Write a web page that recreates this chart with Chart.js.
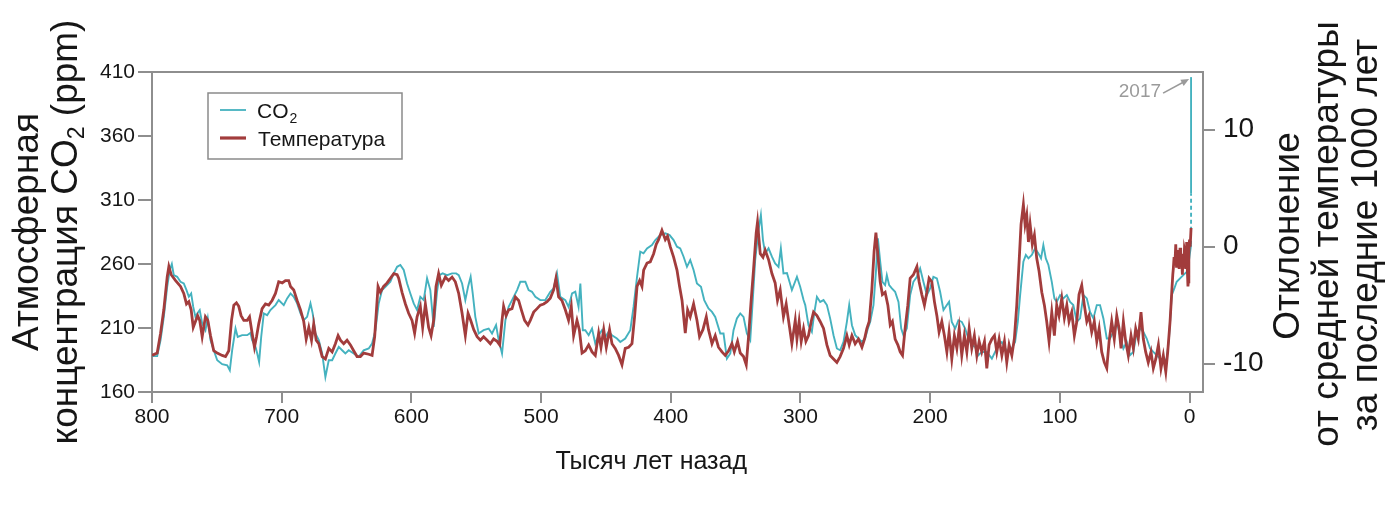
<!DOCTYPE html>
<html>
<head>
<meta charset="utf-8">
<script src="https://cdn.jsdelivr.net/npm/chart.js@4.4.1/dist/chart.umd.min.js"></script>
<style>
html,body{margin:0;padding:0;background:#fff;}
#wrap{width:1387px;height:506px;position:relative;}
</style>
</head>
<body>
<div id="wrap"><canvas id="c" width="1387" height="506"></canvas></div>
<script>
// ---- data (ages in thousand years ago) ----
const co2Age = [800,796,793.4,790.9,788.3,786.3,784.7,783.2,780.6,778,775.5,773.4,771.6,769.8,768.2,766.5,765.1,763.2,761.3,758.8,757,754.9,752.4,749.7,745.9,742,740,738.2,735.6,733.9,730.5,726.6,724.1,722.8,720.2,718.9,717.4,715.8,713.8,711.2,708.7,704.8,702.3,698.4,695.8,693.2,690.7,688.1,685.5,683,680.4,677.8,676.1,674,671.4,668.8,666.3,663.7,661.1,658.6,656,653.4,650.9,648.3,644.5,640.6,636.8,632.9,630.3,627.7,625.2,622.6,620,616.2,613.6,611,608.5,605.9,603.3,600.8,598.2,595.6,593.1,590.5,587.9,585.4,582.8,580.2,578.4,575.9,572.5,568.6,565.5,563.5,560.9,558.4,556.3,554.3,552.7,550.7,548.1,544.3,540.4,537.8,534.7,532.7,530.1,527.5,525,522.4,518.5,516,512.1,509.6,507,504.4,500.6,496.7,492.9,490.3,487.7,485.2,481.3,478.8,476.1,473.6,471.1,469.7,467.8,465.9,463.3,460.7,458.2,455.6,453,450.5,447.9,445.3,441.5,438.9,435.1,431.2,428.7,426,423.5,421,418.3,414.5,411.9,408.1,404.2,400.9,397.8,395.2,392.7,390.1,387.5,385,382.4,379.8,376.7,374.2,370.9,368.2,365.7,361.8,359.3,356.7,354.1,351.6,349,346.4,343.9,341.3,338.7,336.6,334.9,332.3,330.5,328.9,327.2,324.6,322,319.5,316.9,315.1,313.1,310.4,306.6,302.7,300.2,297.6,296.3,293.8,291.2,289.2,287.3,284.8,282.2,279.6,277.1,274.5,271.9,269.4,266.8,264.2,262.4,260.3,257.8,255.3,252.6,250.1,248,246.2,243.7,241.8,240.3,238.5,236.8,234.7,233.4,231.6,229.5,227,224.4,222.3,220.6,218,215.4,212.9,210.2,207.7,205.2,202.5,200,197.5,194.8,192.3,189.7,187.1,185.4,183.3,180.7,178.2,175.6,173,170.5,167.9,165.3,162.8,160.2,156.3,152.4,149.9,147.4,144.7,142.2,139.7,137,134.5,132.4,130.6,128.1,126.2,124.2,121.6,119.1,116.5,114.5,112.7,110.8,108.8,106.2,104.2,102.4,99.8,97.3,94.6,92.1,89.6,86.9,84.4,81.8,79.2,76.7,74.1,71.5,69,66.4,63.8,61.3,58.7,56.1,53.6,51,48.4,45.9,43.3,40.7,38.2,35.6,33,30.4,27.9,25.3,22.7,20.2,17.6,15.8,13.7,11.7,9.9,7.3,4.8,2.2,0.5,-1.2,-1.2,-1.2];
const co2Ppm = [188,188,200.5,218.7,242.2,255.3,260,251.3,250,246.1,244.8,239.6,234.4,237,226.5,218.7,221.4,224,213.5,208.3,217.7,200.5,192.6,184.8,181.7,180.9,177,192.6,209.6,203,204.4,204.4,206.2,200.5,195.2,190.3,183.5,203,221.4,220,224,227.9,231.8,227.9,233.1,237,234.4,229.2,221.4,216.1,218.7,229.2,221.4,205.7,200.5,190.1,171.7,184.8,184.8,190.1,195.2,192.6,190.1,192.6,190.1,187.4,192.6,194,197.9,208.3,229.2,239.6,242.2,246.1,252.7,257.8,259.2,255.3,244.8,237,229.2,224,234.4,231.8,248.8,239.6,210.9,238.3,251.3,252.7,251.3,252.7,252.7,251.3,244.8,231.8,242.2,250,237,218.7,205.7,208.3,209.6,205.7,212.2,200.5,190.1,216.1,226.5,231.8,239.6,246.1,246.1,239.6,238.3,234.4,231.8,231.8,238.3,240.9,252.7,234.4,231.8,226.5,237,238.3,226.5,244.8,208.3,208.3,204.4,209.6,197.9,204.4,208.3,203,207,204.4,201.8,199.1,201.8,208.3,226.5,250,269.6,268.3,272.2,274.8,278.7,282.6,284,282.6,278.7,273.5,272.2,265.7,257.8,263.1,255.3,244.8,242.2,231.8,225.3,222.6,218.7,205.7,205.7,186.1,190.1,208.3,217.5,221.4,218.7,205.7,200.5,234.4,263.1,286.6,298.3,278.7,268.3,272.2,265.7,260.5,257.8,272.2,252.7,253,239.6,250,242.2,231.8,227.9,212.2,207,222.6,234.4,230.4,231.8,227.9,217.5,204.4,194,192.6,199.1,214.8,227.9,212.2,204.4,201.8,199.1,201.8,209.6,214.8,227.9,253.9,280.1,261.8,246.1,243.5,251.3,243.5,240.9,238.3,230.4,209.6,204.4,209.6,235.7,246.1,250,256.6,246.1,235.7,240.9,250,248.8,238.3,224,227.9,230.4,214.8,209.6,216.1,214.8,209.6,201.8,196.6,195.2,188.7,191.3,191.3,186.1,191.3,196.6,199.1,194,191.3,194,199.1,214.8,235.7,261.8,267,264.4,267,272.2,268.3,264.4,274.8,264.4,259.2,246.1,233.1,230.4,235.7,233.1,235.7,230.4,227.9,214.8,217.5,235.7,233.1,222.6,217.5,227.9,227.9,217.5,201.8,201.8,207,214.8,204.4,194,199.1,188.7,191.3,207,209.6,207,201.8,194,191.3,188.7,186.1,183.5,186.1,201.8,235.7,240.9,246.1,248.8,251.3,253.9,262,275,315,406];

const tempAge = [800,796,793.4,790.9,788.3,787,785.2,781.8,778,775.5,773.4,771.6,769.8,768.2,766.5,764.8,763.2,761.3,758.8,757,754.9,752.4,749.7,745.9,743.3,740.8,738.7,736.9,734.9,733.1,731.3,729.2,726.6,724.8,722.8,721,719.4,717.7,715.1,712.5,710,707.4,704.8,702.3,699.6,697.1,694.6,693.2,690.7,688.1,685.5,683,681.1,679.1,677,675.3,673.4,671.4,668.8,666.3,663.7,661.1,658.6,656.5,654.7,652.2,649.6,647,644.5,641.9,639.3,636.8,632.9,630.3,628.3,625.7,623.9,621.4,618.7,616.2,613.6,611,609.8,607.2,604.6,602.1,599.5,597.5,595.6,593.1,591.3,589.2,586.7,584.8,582.8,581,579,576.9,573.8,571.3,568.6,566.1,563.5,560.9,558.4,556.3,554.3,551.9,549.3,546.8,544.3,541.6,539.1,536.6,533.9,531.9,530.1,528.9,527,525,522.4,519.8,517.3,515.2,512.7,510.1,508.3,505.7,503.1,500.6,498,495.4,492.9,490.3,488.5,486.5,483.9,481.3,478.8,476.7,474.9,472.3,470.5,468.4,465.9,463.3,460.7,458.2,455.6,453.8,451.7,449.7,447.2,445.3,442.8,440.2,437.6,435.1,432.5,429.9,427.9,426,424,422.2,420.9,418.3,415.8,413.2,411.2,409.4,406.8,404.2,402.5,400.4,397.8,395.2,393.2,391.3,388.8,387,385,382.4,379.8,377.8,375.2,372.6,370.9,368.2,365.7,363.2,360.5,358,355.4,352.8,351,348.5,346.4,343.9,341.8,340,338.2,336.2,334.1,333.1,331,328.9,327.2,324.6,322,319.5,317.7,315.6,313.1,311,308.4,306.6,304,302.7,301,299.4,297.6,295.8,293.8,291.7,289.9,287.3,284.8,282.2,279.6,277.1,274.5,271.9,269.4,266.8,264.2,262.4,260.3,257.8,255.3,252.6,250.6,248.8,247,244.9,243.2,241.8,240.3,238.5,236.8,234.7,232.6,230.8,229.1,227,224.9,223.1,221.3,219.3,217.2,215.4,212.9,210.2,208.5,206.4,204.4,202.5,200.8,198.7,196.7,194.8,193.1,191,189,187.1,185.4,183.3,181.3,179.4,177.6,175.6,173.6,171.7,169.9,167.9,165.9,164,162.2,160.2,158.1,156.3,154.5,152.4,150.4,148.6,146.8,144.7,142.7,140.9,139.1,137,135,133.2,131.4,129.9,128.1,126.8,125.5,124.2,122.9,121.2,119.6,117.8,116,113.9,111.9,110.1,108.3,106.2,104.2,102.4,100.6,98.5,96.5,94.6,92.9,90.8,88.8,86.9,85.2,83.1,81.1,79.2,77.5,75.4,73.4,71.5,69.7,67.7,65.7,63.8,62,60,58,56.1,54.3,52.8,51,49.2,47.2,45.1,43.3,41.5,39.5,37.4,35.6,33.8,31.8,29.7,27.9,26,24,22,20.2,18.3,16.8,15,13.7,12.9,12.5,11.9,11.3,10.6,10,9.4,9.1,8.6,8,7.3,6.8,6.2,5.5,5,4.4,3.9,3.5,3,2.5,2.2,1.6,1.2,0.9,0.5,0,-0.5,-1.2];
const tempDev = [-9.3,-9.1,-7.4,-5.4,-2.6,-1.7,-2.4,-2.9,-3.4,-4.0,-4.9,-4.7,-5.4,-6.9,-6.4,-5.9,-6.3,-7.7,-6.0,-6.3,-7.6,-8.9,-9.1,-9.3,-9.4,-8.9,-6.3,-5.0,-4.8,-5.1,-5.9,-6.3,-6.3,-6.0,-7.4,-8.6,-7.7,-6.6,-5.3,-4.9,-5.0,-4.6,-4.0,-3.0,-3.1,-2.9,-2.9,-3.4,-3.7,-4.6,-5.4,-6.4,-7.9,-6.9,-8.0,-6.6,-8.0,-8.3,-9.4,-9.6,-8.7,-9.0,-8.3,-7.6,-8.0,-8.3,-8.0,-8.4,-8.9,-9.4,-9.4,-9.1,-9.2,-9.3,-7.7,-3.4,-3.9,-3.4,-3.1,-2.7,-2.3,-2.4,-2.7,-3.9,-4.9,-5.7,-6.3,-7.4,-6.0,-5.1,-6.9,-4.9,-6.9,-7.6,-6.3,-3.4,-2.3,-3.3,-2.6,-2.9,-2.6,-3.0,-4.0,-5.7,-7.6,-5.7,-6.3,-7.1,-7.7,-8.0,-7.7,-8.0,-8.3,-7.9,-8.1,-8.4,-6.3,-5.1,-5.9,-5.4,-5.3,-4.3,-4.6,-5.4,-6.3,-6.7,-6.3,-5.6,-5.3,-5.0,-4.9,-4.7,-4.4,-3.7,-2.7,-4.3,-4.6,-5.4,-6.3,-5.1,-7.6,-6.3,-7.1,-9.1,-8.9,-8.4,-9.0,-9.3,-7.4,-8.6,-7.1,-8.6,-7.1,-8.3,-8.7,-9.3,-10.1,-8.7,-8.6,-8.3,-6.0,-3.4,-2.9,-3.4,-2.0,-1.4,-1.3,-0.6,0.2,0.6,1.4,0.6,0.9,0.0,-0.9,-2.0,-3.4,-4.6,-7.4,-5.4,-6.0,-4.9,-6.3,-7.7,-7.1,-6.0,-7.1,-8.3,-7.6,-8.6,-9.0,-9.3,-8.9,-8.3,-9.0,-8.1,-9.1,-9.4,-10.1,-7.7,-4.9,-2.0,1.2,2.1,-0.6,-0.9,-0.3,-1.1,-2.3,-3.1,-4.6,-3.7,-6.0,-4.9,-6.9,-8.3,-6.3,-7.9,-6.4,-8.1,-7.0,-8.1,-7.6,-6.4,-5.6,-5.9,-6.4,-7.0,-8.4,-9.3,-9.6,-9.9,-9.4,-8.7,-7.6,-8.4,-7.6,-8.3,-7.9,-8.6,-7.9,-7.0,-6.4,-3.6,-0.4,1.2,-0.7,-3.0,-4.1,-3.9,-5.0,-6.7,-6.4,-7.9,-8.4,-9.0,-9.3,-7.0,-5.0,-2.7,-2.4,-1.7,-3.0,-4.1,-5.0,-3.9,-2.7,-3.0,-4.7,-5.9,-7.3,-6.4,-7.6,-9.0,-7.3,-9.6,-7.6,-8.7,-7.0,-9.3,-7.6,-9.0,-7.0,-8.7,-7.6,-9.3,-8.1,-9.0,-8.1,-10.4,-8.4,-7.9,-7.6,-9.0,-7.9,-9.3,-8.1,-9.9,-8.4,-9.3,-7.8,-5.0,-1.3,1.9,3.6,1.9,2.7,0.4,1.9,0.2,1.0,-1.0,-2.1,-3.9,-5.0,-6.4,-8.1,-5.6,-7.6,-5.0,-5.9,-4.4,-6.1,-5.0,-6.4,-5.6,-7.6,-6.4,-4.1,-3.3,-5.0,-6.4,-5.9,-7.3,-6.4,-8.1,-7.0,-9.0,-9.9,-10.4,-8.1,-6.4,-7.9,-5.9,-7.0,-8.7,-6.4,-8.1,-9.3,-7.6,-8.7,-7.0,-7.9,-5.6,-7.9,-9.0,-9.9,-9.0,-10.4,-9.6,-8.4,-10.4,-9.3,-10.7,-9.0,-6.4,-3.9,-2.4,-1.9,-0.9,-1.6,0.2,-1.8,-0.4,-1.3,-0.3,-1.9,-0.1,-1.5,-0.6,-2.4,-0.8,-1.8,-0.2,-0.4,-1.9,-0.9,0.4,-2.2,-3.4,-3.0,-0.6,0.6,0.0,1.6];

const xTicks = [800,700,600,500,400,300,200,100,0];
const co2Ticks = [160,210,260,310,360,410];
const tempTicks = [-10,0,10];

const FONT = "'Liberation Sans', Arial, Helvetica, sans-serif";
const AXIS = '#8e8e8e';
const TEAL = '#44b2bf';
const RED = '#a23c3c';
const TXT = '#161616';

const co2Points = co2Age.map((a,i)=>({x:a, y:co2Ppm[i]}));
const tempPoints = tempAge.map((a,i)=>({x:a, y:tempDev[i]}));
const dashFrom = co2Age.length - 3;

const decor = {
  id:'decor',
  afterDraw(chart){
    const ctx = chart.ctx, ca = chart.chartArea;
    const xs = chart.scales.x, yl = chart.scales.y, yr = chart.scales.y2;
    ctx.save();
    // top frame line
    ctx.strokeStyle = AXIS; ctx.lineWidth = 2;
    ctx.beginPath(); ctx.moveTo(ca.left-1, ca.top); ctx.lineTo(ca.right+1, ca.top); ctx.stroke();

    // legend box
    const lx = ca.left + 56, ly = ca.top + 21;
    ctx.lineWidth = 1.5; ctx.strokeStyle = '#8a8a8a';
    ctx.strokeRect(lx, ly, 194, 66);
    ctx.lineCap = 'butt';
    ctx.strokeStyle = TEAL; ctx.lineWidth = 1.8;
    ctx.beginPath(); ctx.moveTo(lx+12, ly+17); ctx.lineTo(lx+38, ly+17); ctx.stroke();
    ctx.strokeStyle = RED; ctx.lineWidth = 3.2;
    ctx.beginPath(); ctx.moveTo(lx+12, ly+45); ctx.lineTo(lx+38, ly+45); ctx.stroke();
    ctx.fillStyle = TXT; ctx.textBaseline = 'alphabetic'; ctx.textAlign = 'left';
    ctx.font = '21px ' + FONT;
    ctx.fillText('CO', lx+49, ly+25);
    const wco = ctx.measureText('CO').width;
    ctx.font = '14px ' + FONT;
    ctx.fillText('2', lx+49+wco+1, ly+30);
    ctx.font = '21px ' + FONT;
    ctx.fillText('Температура', lx+50, ly+53);

    // 2017 annotation
    const sx = xs.getPixelForValue(co2Age[co2Age.length-1]);
    const sy = yl.getPixelForValue(co2Ppm[co2Ppm.length-1]);
    ctx.fillStyle = '#9a9a9a'; ctx.font = '19px ' + FONT; ctx.textAlign = 'right';
    ctx.fillText('2017', sx - 30, sy + 20);
    const ax0 = sx - 28, ay0 = sy + 16, ax1 = sx - 2, ay1 = sy + 2;
    ctx.strokeStyle = '#9a9a9a'; ctx.lineWidth = 1.6;
    ctx.beginPath(); ctx.moveTo(ax0, ay0); ctx.lineTo(ax1-4, ay1+2.2); ctx.stroke();
    const ang = Math.atan2(ay1-ay0, ax1-ax0);
    ctx.beginPath();
    ctx.moveTo(ax1, ay1);
    ctx.lineTo(ax1 - 8*Math.cos(ang) + 3.5*Math.sin(ang), ay1 - 8*Math.sin(ang) - 3.5*Math.cos(ang));
    ctx.lineTo(ax1 - 8*Math.cos(ang) - 3.5*Math.sin(ang), ay1 - 8*Math.sin(ang) + 3.5*Math.cos(ang));
    ctx.closePath(); ctx.fillStyle = '#9a9a9a'; ctx.fill();

    // axis titles
    const cy = (ca.top + ca.bottom) / 2;
    ctx.fillStyle = TXT; ctx.textAlign = 'left'; ctx.textBaseline = 'alphabetic';
    const big = 37, sub = 23;
    function vline(x, yc, parts){
      ctx.save(); ctx.translate(x, yc); ctx.rotate(-Math.PI/2);
      let total = 0;
      parts.forEach(p=>{ ctx.font = (p[1]?sub:big) + 'px ' + FONT; total += ctx.measureText(p[0]).width; });
      let px = -total/2;
      parts.forEach(p=>{ ctx.font = (p[1]?sub:big) + 'px ' + FONT; ctx.fillText(p[0], px, p[1]?7:0); px += ctx.measureText(p[0]).width; });
      ctx.restore();
    }
    vline(yl.left + 38, cy, [['Атмосферная',false]]);
    vline(yl.left + 77, cy, [['концентрация CO',false],['2',true],[' (ppm)',false]]);
    vline(yr.right - 88, cy + 4, [['Отклонение',false]]);
    vline(yr.right - 49, cy + 2, [['от средней температуры',false]]);
    vline(yr.right - 10, cy + 3, [['за последние 1000 лет',false]]);

    ctx.font = '25px ' + FONT; ctx.textAlign = 'center'; ctx.textBaseline = 'middle';
    ctx.fillText('Тысяч лет назад', ca.left + (ca.right-ca.left)*0.475, xs.bottom - 44);
    ctx.restore();
  }
};

new Chart(document.getElementById('c'), {
  type:'line',
  data:{
    datasets:[
      {label:'Температура', data:tempPoints, yAxisID:'y2', borderColor:RED, borderWidth:2.8, pointRadius:0, tension:0, fill:false},
      {label:'CO₂', data:co2Points, yAxisID:'y', borderColor:TEAL, borderWidth:1.9, pointRadius:0, tension:0, fill:false,
        segment:{ borderDash: c => c.p0DataIndex === dashFrom ? [4,3] : undefined }}
    ]
  },
  options:{
    responsive:false, animation:false, devicePixelRatio:1,
    parsing:true, normalized:true,
    layout:{padding:{top:72,left:0,right:0,bottom:0}},
    plugins:{legend:{display:false}, tooltip:{enabled:false}, title:{display:false}},
    scales:{
      x:{type:'linear', position:'bottom', reverse:true, min:-10.4, max:800,
        afterBuildTicks: s => { s.ticks = xTicks.map(v=>({value:v})); },
        afterFit: s => { s.height = 114; },
        grid:{drawOnChartArea:false, drawTicks:true, tickLength:11, color:AXIS, lineWidth:2},
        border:{display:true, color:AXIS, width:2},
        ticks:{color:TXT, font:{family:FONT, size:21}, padding:2, maxRotation:0, autoSkip:false}
      },
      y:{type:'linear', position:'left', min:160, max:410,
        afterBuildTicks: s => { s.ticks = co2Ticks.map(v=>({value:v})); },
        afterFit: s => { s.width = 152; },
        grid:{drawOnChartArea:false, drawTicks:true, tickLength:14, color:AXIS, lineWidth:2},
        border:{display:true, color:AXIS, width:2},
        ticks:{color:TXT, font:{family:FONT, size:21}, padding:3}
      },
      y2:{type:'linear', position:'right', min:-12.43, max:14.94,
        afterBuildTicks: s => { s.ticks = tempTicks.map(v=>({value:v})); },
        afterFit: s => { s.width = 184; },
        grid:{drawOnChartArea:false, drawTicks:true, tickLength:12, color:AXIS, lineWidth:2},
        border:{display:true, color:AXIS, width:2},
        ticks:{color:TXT, font:{family:FONT, size:28}, padding:8}
      }
    }
  },
  plugins:[decor]
});
</script>
</body>
</html>
